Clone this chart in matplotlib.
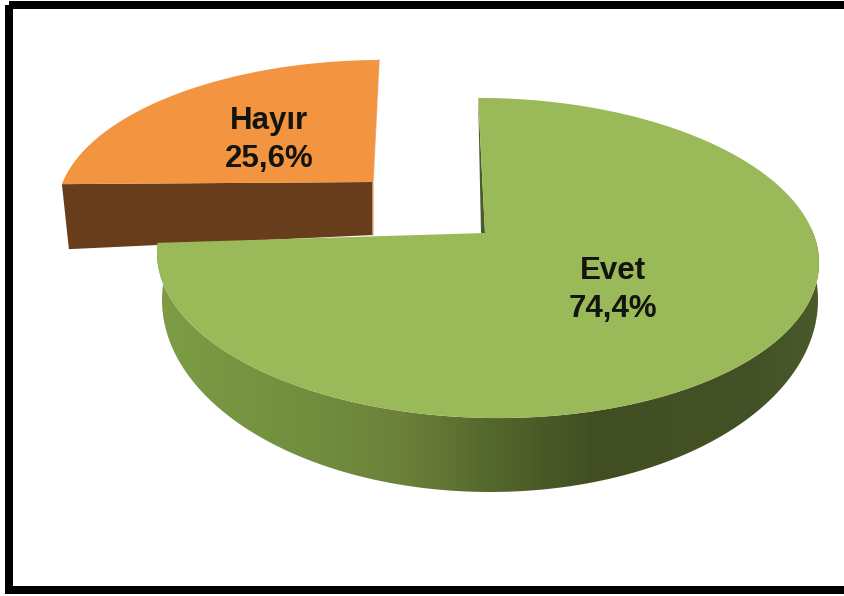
import numpy as np
import matplotlib
matplotlib.use("Agg")
import matplotlib.pyplot as plt
from matplotlib.colors import LinearSegmentedColormap
from matplotlib.patches import Polygon, Rectangle

labels = ["Evet", "Hayır"]
shares = [74.4, 25.6]

GREEN_TOP = "#9ab958"
ORANGE_TOP = "#f29440"
ORANGE_SIDE = "#673d1c"
START_GREEN = -1.4  # degrees clockwise from 12 o'clock
START_ORANGE = 1.3  # exploded slice sits a little rotated in the perspective

# side shading of the green slice, left to right
side_cmap = LinearSegmentedColormap.from_list(
    "side",
    [(0.0, "#7d9c45"), (0.24, "#708e3e"), (0.38, "#6b7f3a"), (0.50, "#55682c"),
     (0.66, "#414e22"), (0.90, "#435226"), (1.0, "#4a5a2a")],
)


def rim(theta, apex, center, rx, ry, tilt=0.0):
    # where a ray from the apex meets the foreshortened, slightly sheared ellipse
    th = np.radians(theta)
    dx, dy = rx * np.sin(th), -ry * np.cos(th)
    ux, uy = dx / rx, (dy - tilt * dx) / ry
    ox, oy = apex[0] - center[0], apex[1] - center[1]
    px, py = ox / rx, (oy - tilt * ox) / ry
    a = ux * ux + uy * uy
    b = px * ux + py * uy
    t = (-b + np.sqrt(b * b - a * (px * px + py * py - 1))) / a
    x = (px + t * ux) * rx
    y = (py + t * uy) * ry + tilt * x
    return np.column_stack([center[0] + x, center[1] + y])


fig = plt.figure(figsize=(8.45, 5.96), dpi=100)
ax = fig.add_axes([0, 0, 1, 1])
ax.set_xlim(0, 845)
ax.set_ylim(596, 0)
ax.axis("off")

sweep = [s / sum(shares) * 360 for s in shares]

# exploded orange slice
a2 = START_ORANGE + sweep[0]
theta2 = np.linspace(a2, a2 + sweep[1], 80)
apex2 = (373, 182)
rim2 = rim(theta2, apex2, (376, 207), 319, 147, tilt=-0.009)
ax.add_patch(Polygon([rim2[0], apex2, (373, 235), rim2[0] + (7, 65)], fc=ORANGE_SIDE, ec="none", zorder=2))
ax.add_patch(Polygon(np.vstack([[apex2], rim2]), fc=ORANGE_TOP, ec="none", zorder=3))
ax.plot([rim2[-1][0], apex2[0], 373], [rim2[-1][1], apex2[1], 235], color="#eeb088", lw=1, zorder=2.5)

# green slice
theta1 = np.linspace(START_GREEN, START_GREEN + sweep[0], 240)
apex1 = (485, 233)
rim1 = rim(theta1, apex1, (488, 258), 331, 160, tilt=0.015)
rim1b = rim(theta1, apex1, (490, 300), 328, 192)

front = theta1 > 45
outline = np.vstack([rim1[front], rim1b[front][::-1]])
clip = Polygon(outline, fc="none", ec="none", transform=ax.transData)
ax.add_patch(clip)
grad = np.linspace(0, 1, 512).reshape(1, -1)
im = ax.imshow(grad, cmap=side_cmap, extent=(157, 820, 500, 230), aspect="auto", zorder=4)
im.set_clip_path(clip)
ax.set_xlim(0, 845)
ax.set_ylim(596, 0)

ax.add_patch(Polygon([rim1[0], apex1, (481, 233)], fc="#4a5a28", ec="none", zorder=4))
ax.add_patch(Polygon(np.vstack([[apex1], rim1]), fc=GREEN_TOP, ec="none", zorder=5))

# labels
txt = dict(ha="center", va="center", family=["Liberation Sans", "DejaVu Sans"], weight="bold",
           fontsize=22.5, color="#14140f", zorder=6)
ax.text(613, 271, labels[0], **txt)
ax.text(613, 309, f"{shares[0]:.1f}%".replace(".", ","), **txt)
ax.text(269, 121, labels[1], **txt)
ax.text(269, 159, f"{shares[1]:.1f}%".replace(".", ","), **txt)

# picture frame, right edge runs off the image
ax.add_patch(Rectangle((9, 5), 845, 585, fc="none", ec="black", lw=5.76, zorder=7, clip_on=True))

fig.savefig("out.png", dpi=100)
